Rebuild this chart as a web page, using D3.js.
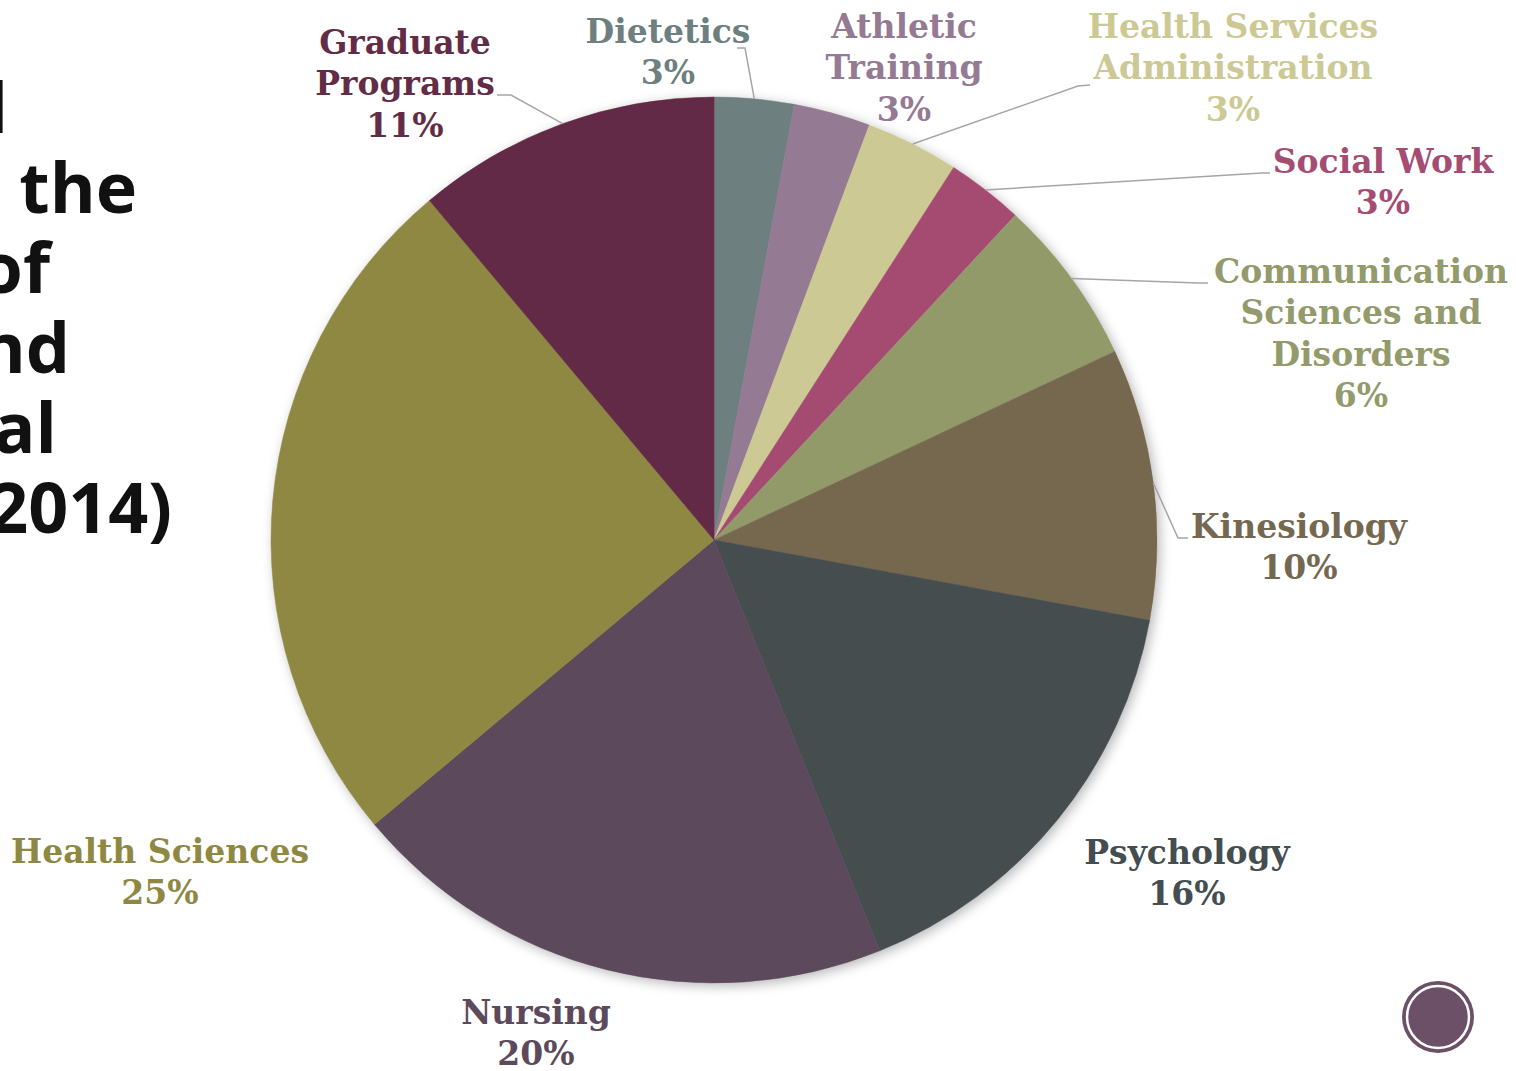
<!DOCTYPE html>
<html>
<head>
<meta charset="utf-8">
<script src="https://cdn.jsdelivr.net/npm/d3@7/dist/d3.min.js"></script>
<style>
  html, body { margin: 0; padding: 0; background: #ffffff; overflow: hidden; }
  svg { display: block; }
</style>
</head>
<body>
<svg id="chart" width="1516" height="1071"></svg>
<script>
// ---- data ----
const categories = ["Dietetics", "Athletic Training", "Health Services Administration", "Social Work",
  "Communication Sciences and Disorders", "Kinesiology", "Psychology", "Nursing", "Health Sciences", "Graduate Programs"];
const values = [2.9, 2.8, 3.4, 2.8, 6.1, 9.9, 16.0, 20.0, 25.0, 11.1];
const labelLines = [["Dietetics"], ["Athletic", "Training"], ["Health Services", "Administration"], ["Social Work"],
  ["Communication", "Sciences and", "Disorders"], ["Kinesiology"], ["Psychology"], ["Nursing"], ["Health Sciences"], ["Graduate", "Programs"]];
const colors = ["#6E7F80", "#957A93", "#CCC994", "#A54C72", "#939A6B", "#756850", "#444D50", "#5C4A5C", "#8E8843", "#632C46"];
const titleFragments = ["d", "the", "of", "nd", "al", "(2014)"];

// ---- layout ----
const W = 1516, H = 1071;
const cx = 714, cy = 540, R = 443;
const labelLayout = [
  { x: 668, y: 31, leader: [[745, 48], [737, 48]] },
  { x: 904, y: 26, leader: null },
  { x: 1233, y: 26, leader: [[1078, 86], [1090, 85]] },
  { x: 1383, y: 161, leader: [[1262, 173], [1270, 173]] },
  { x: 1361, y: 271, leader: [[1198, 283], [1208, 283]] },
  { x: 1299, y: 526, leader: [[1178, 538], [1188, 538]] },
  { x: 1187, y: 852, leader: null },
  { x: 536, y: 1012, leader: null },
  { x: 160, y: 851, leader: null },
  { x: 405, y: 42, leader: [[511, 95], [497, 95]] }
];
const lineH = 41.5;

const svg = d3.select("#chart");
const defs = svg.append("defs");
const f = defs.append("filter").attr("id", "shadow").attr("x", "-10%").attr("y", "-10%").attr("width", "120%").attr("height", "120%");
f.append("feDropShadow").attr("dx", 3).attr("dy", 3).attr("stdDeviation", 6).attr("flood-color", "#000").attr("flood-opacity", 0.28);

// title fragments (clipped at the left edge)
const titleX = [8, 137, 50, 70, 57, 172];
const titleY = [133, 213, 293, 373, 453, 533];
svg.append("g").selectAll("text").data(titleFragments).join("text")
  .attr("x", (d, i) => titleX[i]).attr("y", (d, i) => titleY[i])
  .attr("text-anchor", "end")
  .attr("font-family", "'Open Sans', sans-serif").attr("font-weight", 700)
  .attr("font-size", 70).attr("fill", "#111")
  .text(d => d);

// pie
const data = categories.map((c, i) => ({ name: c, value: values[i], color: colors[i], lines: labelLines[i], layout: labelLayout[i] }));
const total = d3.sum(values);
const pie = d3.pie().value(d => d.value).sort(null);
const arcs = pie(data);
const arc = d3.arc().innerRadius(0).outerRadius(R);

const g = svg.append("g").attr("transform", `translate(${cx},${cy})`);
g.append("g").attr("filter", "url(#shadow)")
  .selectAll("path").data(arcs).join("path")
  .attr("d", arc).attr("fill", d => d.data.color)
  .attr("stroke", d => d.data.color).attr("stroke-width", 0.5);

// leaders
arcs.forEach(a => {
  const L = a.data.layout.leader;
  if (!L) return;
  const mid = (a.startAngle + a.endAngle) / 2;
  const px = cx + R * Math.sin(mid), py = cy - R * Math.cos(mid);
  const pts = [[px, py], ...L];
  svg.append("path").attr("d", d3.line()(pts))
    .attr("fill", "none").attr("stroke", "#A6A6A6").attr("stroke-width", 1.5);
});

// labels
arcs.forEach(a => {
  const d = a.data, lay = d.layout;
  const pct = Math.round(d.value / total * 100) + "%";
  const lines = [...d.lines, pct];
  const t = svg.append("text")
    .attr("text-anchor", "middle")
    .attr("font-family", "'DejaVu Serif', serif").attr("font-weight", 700)
    .attr("font-size", 33).attr("fill", d.color);
  lines.forEach((ln, k) => {
    t.append("tspan").attr("x", lay.x).attr("y", lay.y + k * lineH).attr("dy", "0.35em").text(ln);
  });
});

// decorative circle bottom-right
svg.append("circle").attr("cx", 1438).attr("cy", 1017).attr("r", 36).attr("fill", "#6B5068");
svg.append("circle").attr("cx", 1438).attr("cy", 1017).attr("r", 31).attr("fill", "none").attr("stroke", "#fff").attr("stroke-width", 2.5);
</script>
</body>
</html>
